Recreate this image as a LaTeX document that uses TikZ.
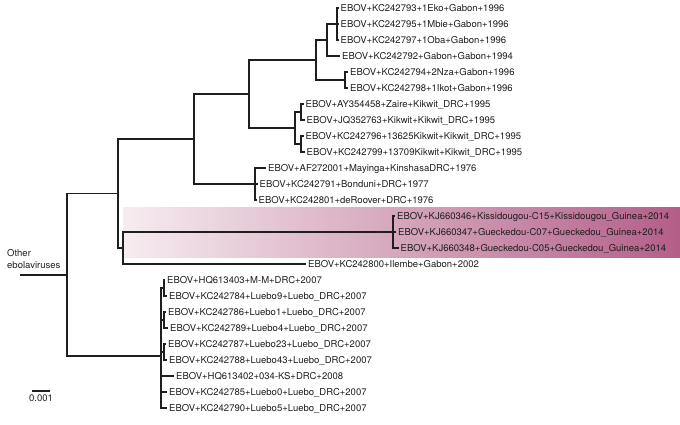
\documentclass[tikz,border=0pt]{standalone}
\usepackage{fontspec}
\setmainfont{TeX Gyre Heros}
\definecolor{bandL}{RGB}{246,236,240}
\definecolor{bandR}{RGB}{180,94,136}
\definecolor{ink}{RGB}{30,30,30}
\begin{document}
\begin{tikzpicture}[x=1pt,y=-1pt,
  br/.style={draw=ink, line width=1.15pt},
  lbl/.style={anchor=west, inner xsep=2pt, inner ysep=0pt, text height=6.8pt, text depth=0pt,
    font=\fontsize{9.5}{11}\selectfont, text=ink}]
\useasboundingbox (0,0) rectangle (680,424);
% highlighted clade band
\shade[left color=bandL, right color=bandR] (123,207) rectangle (680,257);
% internal nodes
\coordinate (stem) at (20,275);
\coordinate (root) at (67,275);
\coordinate (up) at (118,193.5);
\coordinate (gkm) at (194,139);
\coordinate (gk) at (249,94);
\coordinate (gD) at (316,60);
\coordinate (gB) at (327,40);
\coordinate (gA) at (337,24);
\coordinate (gC) at (345,80);
\coordinate (kC) at (295,128);
\coordinate (kA) at (301,112);
\coordinate (kB) at (301,144);
\coordinate (mA) at (255,184);
\coordinate (gi) at (123,248);
\coordinate (guA) at (393,232);
\coordinate (lM) at (161,356);
\coordinate (lA) at (164,288);
\coordinate (lB) at (164,320);
\coordinate (lC) at (164,352);
% leaves
\node[lbl] (l0) at (338.5,8) {EBOV+KC242793+1Eko+Gabon+1996};
\node[lbl] (l1) at (338.5,24) {EBOV+KC242795+1Mbie+Gabon+1996};
\node[lbl] (l2) at (338.5,40) {EBOV+KC242797+1Oba+Gabon+1996};
\node[lbl] (l3) at (340,56) {EBOV+KC242792+Gabon+Gabon+1994};
\node[lbl] (l4) at (348,72) {EBOV+KC242794+2Nza+Gabon+1996};
\node[lbl] (l5) at (348,88) {EBOV+KC242798+1Ikot+Gabon+1996};
\node[lbl] (l6) at (303.5,104) {EBOV+AY354458+Zaire+Kikwit\_DRC+1995};
\node[lbl] (l7) at (304.5,120) {EBOV+JQ352763+Kikwit+Kikwit\_DRC+1995};
\node[lbl] (l8) at (303.5,136) {EBOV+KC242796+13625Kikwit+Kikwit\_DRC+1995};
\node[lbl] (l9) at (304.5,152) {EBOV+KC242799+13709Kikwit+Kikwit\_DRC+1995};
\node[lbl] (l10) at (266,168) {EBOV+AF272001+Mayinga+KinshasaDRC+1976};
\node[lbl] (l11) at (257.5,184) {EBOV+KC242791+Bonduni+DRC+1977};
\node[lbl] (l12) at (256.5,200) {EBOV+KC242801+deRoover+DRC+1976};
\node[lbl] (l13) at (395,216) {EBOV+KJ660346+Kissidougou-C15+Kissidougou\_Guinea+2014};
\node[lbl] (l14) at (396,232) {EBOV+KJ660347+Gueckedou-C07+Gueckedou\_Guinea+2014};
\node[lbl] (l15) at (398.5,248) {EBOV+KJ660348+Gueckedou-C05+Gueckedou\_Guinea+2014};
\node[lbl] (l16) at (306,264) {EBOV+KC242800+Ilembe+Gabon+2002};
\node[lbl] (l17) at (165,280) {EBOV+HQ613403+M-M+DRC+2007};
\node[lbl] (l18) at (167,296) {EBOV+KC242784+Luebo9+Luebo\_DRC+2007};
\node[lbl] (l19) at (166,312) {EBOV+KC242786+Luebo1+Luebo\_DRC+2007};
\node[lbl] (l20) at (168,328) {EBOV+KC242789+Luebo4+Luebo\_DRC+2007};
\node[lbl] (l21) at (166,344) {EBOV+KC242787+Luebo23+Luebo\_DRC+2007};
\node[lbl] (l22) at (167,360) {EBOV+KC242788+Luebo43+Luebo\_DRC+2007};
\node[lbl] (l23) at (174,376) {EBOV+HQ613402+034-KS+DRC+2008};
\node[lbl] (l24) at (167,392) {EBOV+KC242785+Luebo0+Luebo\_DRC+2007};
\node[lbl] (l25) at (167,408) {EBOV+KC242790+Luebo5+Luebo\_DRC+2007};
% branches
\draw[br] (stem) -- (root);
\draw[br] (root) |- (up);
\draw[br] (root) |- (lM);
\draw[br] (up) |- (gkm);
\draw[br] (up) |- (gi);
\draw[br] (gkm) |- (gk);
\draw[br] (gkm) |- (mA);
\draw[br] (gk) |- (gD);
\draw[br] (gk) |- (kC);
\draw[br] (gD) |- (gB);
\draw[br] (gD) |- (gC);
\draw[br] (gB) |- (gA);
\draw[br] (gB) |- (l3.west);
\draw[br] (gA) |- (l0.west);
\draw[br] (gA) |- (l1.west);
\draw[br] (gA) |- (l2.west);
\draw[br] (gC) |- (l4.west);
\draw[br] (gC) |- (l5.west);
\draw[br] (kC) |- (kA);
\draw[br] (kC) |- (kB);
\draw[br] (kA) |- (l6.west);
\draw[br] (kA) |- (l7.west);
\draw[br] (kB) |- (l8.west);
\draw[br] (kB) |- (l9.west);
\draw[br] (mA) |- (l10.west);
\draw[br] (mA) |- (l11.west);
\draw[br] (mA) |- (l12.west);
\draw[br] (gi) |- (guA);
\draw[br] (gi) |- (l16.west);
\draw[br] (guA) |- (l13.west);
\draw[br] (guA) |- (l14.west);
\draw[br] (guA) |- (l15.west);
\draw[br] (lM) |- (lA);
\draw[br] (lM) |- (lB);
\draw[br] (lM) |- (lC);
\draw[br] (lM) |- (l23.west);
\draw[br] (lM) |- (l24.west);
\draw[br] (lM) |- (l25.west);
\draw[br] (lA) |- (l17.west);
\draw[br] (lA) |- (l18.west);
\draw[br] (lB) |- (l19.west);
\draw[br] (lB) |- (l20.west);
\draw[br] (lC) |- (l21.west);
\draw[br] (lC) |- (l22.west);
% outgroup label
\node[anchor=north west, align=left, inner sep=0pt, font=\fontsize{9.5}{12}\selectfont, text=ink] (og) at (7,249) {Other\\ebolaviruses};
% scale bar
\coordinate (sb1) at (32,391);
\coordinate (sb2) at (50,391);
\draw[br] (sb1) -- (sb2);
\node[anchor=north, inner sep=0pt, font=\fontsize{9.5}{11}\selectfont, text=ink] (sbl) at (41,395) {0.001};
\end{tikzpicture}
\end{document}
